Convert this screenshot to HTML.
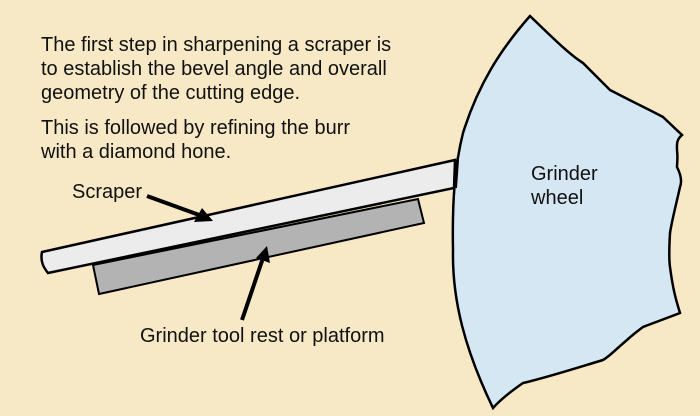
<!DOCTYPE html>
<html><head><style>
body{margin:0;background:#f8e9c6;}
svg{display:block;font-family:"Liberation Sans",sans-serif;}
</style></head><body>
<svg width="700" height="416" viewBox="0 0 700 416">
<rect width="700" height="416" fill="#f8e9c6"/>
<path d="M530,16 C555,40 570,55 583,63 C595,75 605,85 610,90 C635,103 650,110 663,117 L682,135 C676,140 677,145 677,150 C678,158 677,163 677,167 C681,175 682,182 680,187 C676,205 672,220 670,233 C669,250 669,260 670,267 C673,290 676,300 680,313 L643,327 C635,333 630,337 627,340 C615,350 610,356 603,360 C570,370 545,378 523,383 C510,392 500,400 493,408 C465,350 452,300 453,250 C452,200 455,165 463,133 C478,85 500,50 530,16 Z" fill="#d6e7f4" stroke="#000" stroke-width="2.5"/>
<text x="531" y="180" font-size="20" fill="#111">Grinder</text>
<text x="531" y="204" font-size="20" fill="#111">wheel</text>
<polygon points="93,265 418,199 424,223 99,294" fill="#b3b3b3" stroke="#000" stroke-width="2"/>
<path d="M42,252 L455,160 L454,188 L48,273 C44,268 40,262 42,252 Z" fill="#ececec" stroke="#000" stroke-width="2.5"/>
<line x1="457" y1="160" x2="455" y2="188" stroke="#000" stroke-width="4"/>
<line x1="147" y1="196" x2="202" y2="216" stroke="#000" stroke-width="4"/>
<polygon points="213,221 194,222 202,208" fill="#000"/>
<line x1="242" y1="320" x2="263" y2="258" stroke="#000" stroke-width="4"/>
<polygon points="267,246 270,263 256,258" fill="#000"/>
<g font-size="20" fill="#111">
<text x="41" y="51">The first step in sharpening a scraper is</text>
<text x="41" y="75">to establish the bevel angle and overall</text>
<text x="41" y="99">geometry of the cutting edge.</text>
<text x="41" y="134">This is followed by refining the burr</text>
<text x="41" y="158">with a diamond hone.</text>
<text x="72" y="198">Scraper</text>
<text x="140" y="342">Grinder tool rest or platform</text>
</g>
</svg>
</body></html>
